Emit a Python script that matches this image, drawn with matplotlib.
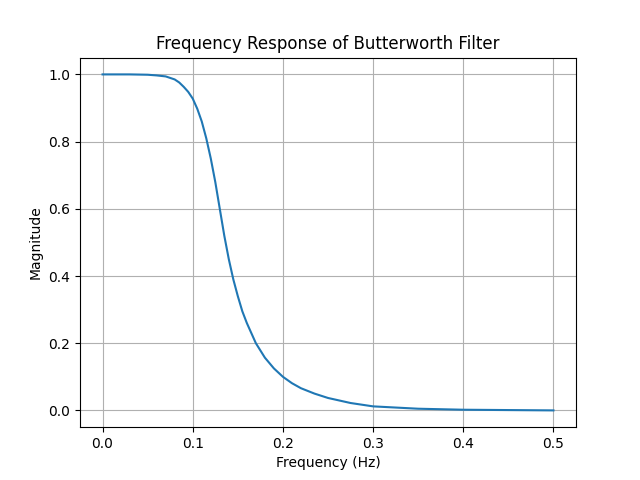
import matplotlib
matplotlib.use("Agg")
import matplotlib.pyplot as plt

freq = [0.0, 0.03, 0.05, 0.06, 0.07, 0.08, 0.085, 0.09, 0.095, 0.1, 0.105, 0.11, 0.115, 0.12, 0.125,
        0.13, 0.135, 0.14, 0.145, 0.15, 0.155, 0.16, 0.17, 0.18, 0.19, 0.2, 0.21, 0.22,
        0.235, 0.25, 0.275, 0.3, 0.35, 0.4, 0.45, 0.5]
mag = [1.0, 1.0, 0.999, 0.997, 0.994, 0.985, 0.976, 0.963, 0.948, 0.928, 0.898, 0.86, 0.81, 0.75, 0.68,
       0.6, 0.52, 0.45, 0.39, 0.34, 0.295, 0.26, 0.2, 0.157, 0.125, 0.1, 0.081, 0.066,
       0.05, 0.037, 0.022, 0.012, 0.005, 0.002, 0.001, 0.0]

fig, ax = plt.subplots(figsize=(6.4, 4.8), dpi=100)
ax.plot(freq, mag, color="#1f77b4")
ax.set_title("Frequency Response of Butterworth Filter")
ax.set_xlabel("Frequency (Hz)")
ax.set_ylabel("Magnitude")
ax.grid(True)
fig.savefig("out.png")
